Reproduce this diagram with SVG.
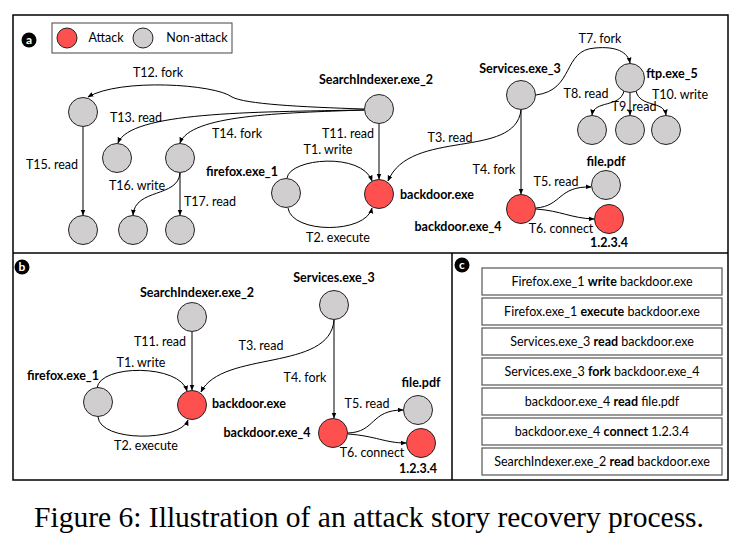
<svg xmlns="http://www.w3.org/2000/svg" width="747" height="541" viewBox="0 0 747 541">
<style>
text{font-family:Lato,"Open Sans","Liberation Sans",sans-serif;font-size:12.5px;fill:#000;text-anchor:middle}
.b{font-weight:bold}
.n{fill:#D0CECE;stroke:#222;stroke-width:1}
.r{fill:#FF5050;stroke:#222;stroke-width:1}
.e{fill:none;stroke:#000;stroke-width:1}
.frame{fill:none;stroke:#000;stroke-width:1.5}
.box{fill:#fff;stroke:#555;stroke-width:1.2}
.badge{fill:#000}
.bt{fill:#fff;font-weight:bold;font-size:12px}
.cap{font-family:"Liberation Serif","Times New Roman",serif;font-size:30px}
</style>
<defs>
<marker id="ah" viewBox="0 0 10 10" refX="9" refY="5" markerWidth="6" markerHeight="6" orient="auto" markerUnits="userSpaceOnUse">
<path d="M0,1 L10,5 L0,9 z" fill="#000"/>
</marker>
</defs>
<rect class="frame" x="13" y="15" width="715" height="465" fill="#fff"/>
<line class="frame" x1="13" y1="253" x2="728" y2="253"/>
<line class="frame" x1="452" y1="253" x2="452" y2="480"/>

<g id="legend">
<circle class="badge" cx="29" cy="40" r="7.5"/><text class="bt" x="29" y="44">a</text>
<rect x="52" y="23" width="180" height="30" fill="#fff" stroke="#444" stroke-width="1"/>
<circle class="r" cx="67" cy="38" r="10"/><text x="106" y="42">Attack</text>
<circle class="n" cx="143" cy="38" r="10"/><text x="197" y="42">Non-attack</text>
</g>

<g id="connectors-a">
<path class="e" marker-end="url(#ah)" d="M364,109 C300,107 245,104 232,97 C215,84 120,78 88,97"/>
<path class="e" marker-end="url(#ah)" d="M364,110 C250,112 130,112 118,143"/>
<path class="e" marker-end="url(#ah)" d="M364,110 C280,113 190,115 180,143"/>
<path class="e" marker-end="url(#ah)" d="M83,127 L83,215"/>
<path class="e" marker-end="url(#ah)" d="M180,173 C178,198 135,188 133,215"/>
<path class="e" marker-end="url(#ah)" d="M180,173 L180,215"/>
<path class="e" marker-end="url(#ah)" d="M379,124 L379,179"/>
<path class="e" marker-end="url(#ah)" d="M287,178 C290,158 362,152 372,181"/>
<path class="e" marker-end="url(#ah)" d="M288,208 C292,234 366,234 372,208"/>
<path class="e" marker-end="url(#ah)" d="M521,110 C515,160 410,128 388,181"/>
<path class="e" marker-end="url(#ah)" d="M521,110 L521,194"/>
<path class="e" marker-end="url(#ah)" d="M536,95 C575,90 562,50 595,48 C616,46 628,52 630,63"/>
<path class="e" marker-end="url(#ah)" d="M624,91 C620,108 594,100 592,115"/>
<path class="e" marker-end="url(#ah)" d="M630,93 L630,115"/>
<path class="e" marker-end="url(#ah)" d="M636,91 C640,108 664,100 666,115"/>
<path class="e" marker-end="url(#ah)" d="M536,208 C562,206 558,186 591,187"/>
<path class="e" marker-end="url(#ah)" d="M536,209 C562,211 570,218 594,219"/>
</g>

<g id="nodes-a">
<g id="a-searchindexer"><circle class="n" cx="379" cy="109" r="14.5"/><text class="b" x="376" y="84">SearchIndexer.exe_2</text></g>
<g id="a-n12"><circle class="n" cx="83" cy="112" r="14.5"/></g>
<g id="a-n13"><circle class="n" cx="117" cy="158" r="14.5"/></g>
<g id="a-n14"><circle class="n" cx="180" cy="158" r="14.5"/></g>
<g id="a-n15"><circle class="n" cx="83" cy="230" r="14.5"/></g>
<g id="a-n16"><circle class="n" cx="133" cy="230" r="14.5"/></g>
<g id="a-n17"><circle class="n" cx="180" cy="230" r="14.5"/></g>
<g id="a-firefox"><circle class="n" cx="286" cy="193" r="14.5"/><text class="b" x="242" y="176">firefox.exe_1</text></g>
<g id="a-backdoor"><circle class="r" cx="379" cy="194" r="14.5"/><text class="b" x="437" y="199">backdoor.exe</text></g>
<g id="a-services"><circle class="n" cx="521" cy="95" r="14.5"/><text class="b" x="520" y="73">Services.exe_3</text></g>
<g id="a-ftp"><circle class="n" cx="630" cy="78" r="14.5"/><text class="b" x="672" y="78">ftp.exe_5</text></g>
<g id="a-f1"><circle class="n" cx="592" cy="130" r="14.5"/></g>
<g id="a-f2"><circle class="n" cx="630" cy="130" r="14.5"/></g>
<g id="a-f3"><circle class="n" cx="666" cy="130" r="14.5"/></g>
<g id="a-backdoor4"><circle class="r" cx="521" cy="209" r="14.5"/><text class="b" x="458" y="231">backdoor.exe_4</text></g>
<g id="a-filepdf"><circle class="n" cx="606" cy="185" r="14.5"/><text class="b" x="606" y="166">file.pdf</text></g>
<g id="a-ip"><circle class="r" cx="609" cy="219" r="14.5"/><text class="b" x="609" y="247">1.2.3.4</text></g>
</g>

<g id="labels-a">
<text x="158" y="77">T12. fork</text>
<text x="136" y="122">T13. read</text>
<text x="237" y="138">T14. fork</text>
<text x="348" y="138">T11. read</text>
<text x="328" y="154">T1. write</text>
<text x="52" y="169">T15. read</text>
<text x="137" y="190">T16. write</text>
<text x="210" y="206">T17. read</text>
<text x="338" y="242">T2. execute</text>
<text x="600" y="43">T7. fork</text>
<text x="586" y="98">T8. read</text>
<text x="634" y="111">T9. read</text>
<text x="680" y="99">T10. write</text>
<text x="450" y="142">T3. read</text>
<text x="494" y="174">T4. fork</text>
<text x="556" y="186">T5. read</text>
<text x="561" y="233">T6. connect</text>
</g>

<g id="panel-b">
<circle class="badge" cx="22" cy="267" r="7.5"/><text class="bt" x="22" y="271">b</text>
<g id="connectors-b">
<path class="e" marker-end="url(#ah)" d="M192,332 L192,390"/>
<path class="e" marker-end="url(#ah)" d="M97,388 C100,364 180,364 187,391"/>
<path class="e" marker-end="url(#ah)" d="M98,417 C100,442 180,442 188,420"/>
<path class="e" marker-end="url(#ah)" d="M334,320 C330,372 222,350 201,392"/>
<path class="e" marker-end="url(#ah)" d="M334,320 L334,418"/>
<path class="e" marker-end="url(#ah)" d="M348,433 C376,432 370,410 403,410"/>
<path class="e" marker-end="url(#ah)" d="M348,434 C376,436 385,443 406,443"/>
</g>
<g id="b-searchindexer"><circle class="n" cx="192" cy="317" r="14.5"/><text class="b" x="197" y="297">SearchIndexer.exe_2</text></g>
<g id="b-services"><circle class="n" cx="334" cy="305" r="14.5"/><text class="b" x="334" y="282">Services.exe_3</text></g>
<g id="b-firefox"><circle class="n" cx="98" cy="402" r="14.5"/><text class="b" x="63" y="380">firefox.exe_1</text></g>
<g id="b-backdoor"><circle class="r" cx="192" cy="405" r="14.5"/><text class="b" x="249" y="408">backdoor.exe</text></g>
<g id="b-filepdf"><circle class="n" cx="418" cy="410" r="14.5"/><text class="b" x="421" y="387">file.pdf</text></g>
<g id="b-backdoor4"><circle class="r" cx="333" cy="433" r="14.5"/><text class="b" x="267" y="437">backdoor.exe_4</text></g>
<g id="b-ip"><circle class="r" cx="421" cy="443" r="14.5"/><text class="b" x="418" y="473">1.2.3.4</text></g>
<text x="160" y="346">T11. read</text>
<text x="141" y="367">T1. write</text>
<text x="261" y="350">T3. read</text>
<text x="305" y="382">T4. fork</text>
<text x="367" y="408">T5. read</text>
<text x="372" y="457">T6. connect</text>
<text x="146" y="450">T2. execute</text>
</g>

<g id="panel-c">
<circle class="badge" cx="462" cy="265" r="7.5"/><text class="bt" x="462" y="269">c</text>
<g id="c1"><rect class="box" x="482" y="268" width="240" height="27"/><text x="602" y="286">Firefox.exe_1 <tspan class="b">write</tspan> backdoor.exe</text></g>
<g id="c2"><rect class="box" x="482" y="298" width="240" height="27"/><text x="602" y="316">Firefox.exe_1 <tspan class="b">execute</tspan> backdoor.exe</text></g>
<g id="c3"><rect class="box" x="482" y="328" width="240" height="27"/><text x="602" y="346">Services.exe_3 <tspan class="b">read</tspan> backdoor.exe</text></g>
<g id="c4"><rect class="box" x="482" y="358" width="240" height="27"/><text x="602" y="376">Services.exe_3 <tspan class="b">fork</tspan> backdoor.exe_4</text></g>
<g id="c5"><rect class="box" x="482" y="388" width="240" height="27"/><text x="602" y="406">backdoor.exe_4 <tspan class="b">read</tspan> file.pdf</text></g>
<g id="c6"><rect class="box" x="482" y="418" width="240" height="27"/><text x="602" y="436">backdoor.exe_4 <tspan class="b">connect</tspan> 1.2.3.4</text></g>
<g id="c7"><rect class="box" x="482" y="448" width="240" height="27"/><text x="602" y="466">SearchIndexer.exe_2 <tspan class="b">read</tspan> backdoor.exe</text></g>
</g>

<text class="cap" x="369" y="527" textLength="670" lengthAdjust="spacingAndGlyphs">Figure 6: Illustration of an attack story recovery process.</text>
</svg>
